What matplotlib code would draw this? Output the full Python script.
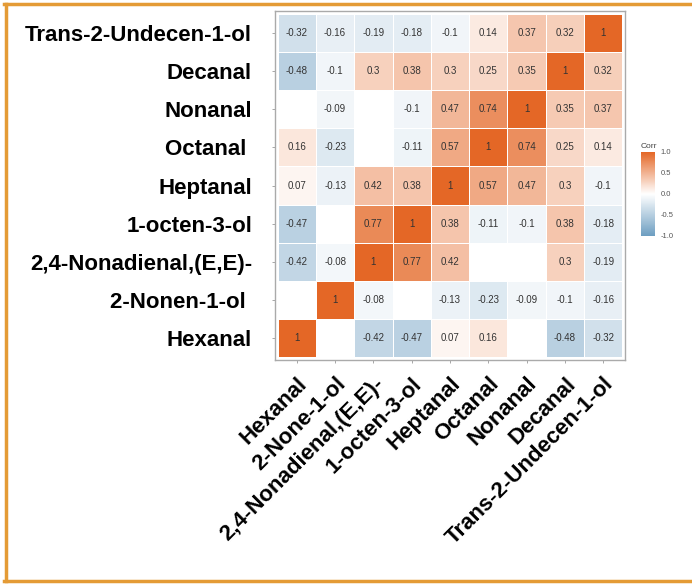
import numpy as np
import matplotlib
matplotlib.use("Agg")
import matplotlib.pyplot as plt
from matplotlib.colors import LinearSegmentedColormap
from matplotlib.lines import Line2D

# column order (left -> right) and row order (bottom -> top)
x_labels = ["Hexanal", "2-None-1-ol", "2,4-Nonadienal,(E,E)-", "1-octen-3-ol",
            "Heptanal", "Octanal", "Nonanal", "Decanal", "Trans-2-Undecen-1-ol"]
y_labels = ["Hexanal", "2-Nonen-1-ol ", "2,4-Nonadienal,(E,E)-", "1-octen-3-ol",
            "Heptanal", "Octanal ", "Nonanal", "Decanal", "Trans-2-Undecen-1-ol"]

nan = np.nan
# rows listed bottom -> top; nan = not significant (blank cell)
corr_hexanal = [1, nan, -0.42, -0.47, 0.07, 0.16, nan, -0.48, -0.32]
corr_nonenol = [nan, 1, -0.08, nan, -0.13, -0.23, -0.09, -0.1, -0.16]
corr_nonadienal = [-0.42, -0.08, 1, 0.77, 0.42, nan, nan, 0.3, -0.19]
corr_octenol = [-0.47, nan, 0.77, 1, 0.38, -0.11, -0.1, 0.38, -0.18]
corr_heptanal = [0.07, -0.13, 0.42, 0.38, 1, 0.57, 0.47, 0.3, -0.1]
corr_octanal = [0.16, -0.23, nan, -0.11, 0.57, 1, 0.74, 0.25, 0.14]
corr_nonanal = [nan, -0.09, nan, -0.1, 0.47, 0.74, 1, 0.35, 0.37]
corr_decanal = [-0.48, -0.1, 0.3, 0.38, 0.3, 0.25, 0.35, 1, 0.32]
corr_undecenol = [-0.32, -0.16, -0.19, -0.18, -0.1, 0.14, 0.37, 0.32, 1]

rows = [corr_hexanal, corr_nonenol, corr_nonadienal, corr_octenol, corr_heptanal,
        corr_octanal, corr_nonanal, corr_decanal, corr_undecenol]
mat = np.ma.masked_invalid(np.array(rows, dtype=float))

cmap = LinearSegmentedColormap.from_list("corr", ["#6D9EC1", "white", "#E46726"])
cmap.set_bad("white")

plt.rcParams['font.family'] = ['Liberation Sans', 'DejaVu Sans']

fig = plt.figure(figsize=(6.92, 5.85), dpi=100)
ax = fig.add_axes([0.3974, 0.3846, 0.5058, 0.5966])

n = len(x_labels)
edges = np.arange(n + 1) - 0.5
mesh = ax.pcolormesh(edges, edges, mat, cmap=cmap, vmin=-1, vmax=1,
                     edgecolors="white", linewidth=0.6)

for i in range(n):
    for j in range(n):
        v = rows[i][j]
        if not np.isnan(v):
            ax.text(j, i, f"{v:g}", ha="center", va="center", fontsize=7, color="#333333")

pad = 0.07
ax.set_xlim(-0.5 - pad, n - 0.5 + pad)
ax.set_ylim(-0.5 - pad, n - 0.5 + pad)
ax.set_xticks(range(n))
ax.set_yticks(range(n))
ax.set_xticklabels(x_labels, rotation=45, ha="right", rotation_mode="anchor",
                   fontsize=16, fontweight="bold")
ax.set_yticklabels(y_labels, fontsize=16, fontweight="bold")
ax.tick_params(axis="both", length=2.5, width=0.6, color="#999999")
ax.tick_params(axis="y", pad=14)
ax.tick_params(axis="x", pad=7)
for s in ax.spines.values():
    s.set_color("#AAAAAA")
    s.set_linewidth(1.0)

cax = fig.add_axes([0.9263, 0.5966, 0.0202, 0.1436])
cb = fig.colorbar(mesh, cax=cax, ticks=[-1, -0.5, 0, 0.5, 1])
cb.outline.set_visible(False)
cb.ax.set_yticklabels(["-1.0", "-0.5", "0.0", "0.5", "1.0"])
cb.ax.tick_params(length=2, color="white", labelsize=5.5, labelcolor="#555555", pad=2)
cax.set_title("Corr", fontsize=6, color="#444444", loc="left", pad=3)

# orange frame around the picture
frame_col = "#E49B36"
fig.add_artist(Line2D([0.006, 1.0], [0.994, 0.994], color=frame_col, lw=2.5, transform=fig.transFigure))
fig.add_artist(Line2D([0.009, 0.009], [0.006, 0.994], color=frame_col, lw=2.5, transform=fig.transFigure))
fig.add_artist(Line2D([0.006, 1.0], [0.006, 0.006], color=frame_col, lw=2.5, transform=fig.transFigure))

fig.savefig("out.png", dpi=100)
